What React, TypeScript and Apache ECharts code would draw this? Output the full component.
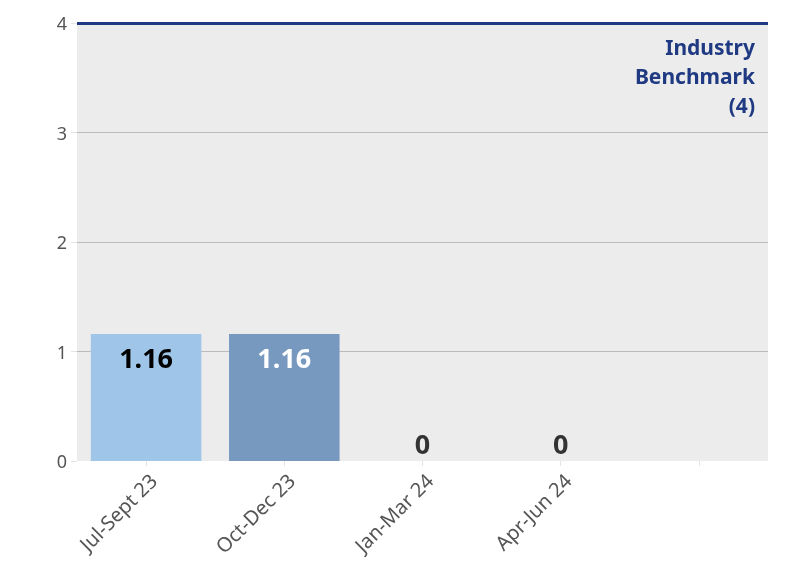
import React, { useEffect, useRef } from "react";
import * as echarts from "echarts";

const categories = ["Jul-Sept 23", "Oct-Dec 23", "Jan-Mar 24", "Apr-Jun 24", ""];
const values = [1.16, 1.16, 0, 0, null];
const barColors = ["#9fc5e8", "#7899bf", "#9fc5e8", "#7899bf", "#9fc5e8"];
const labelColors = ["#000000", "#ffffff", "#333333", "#333333", "#333333"];
const benchmark = 4;
const benchmarkLabel = ["Industry", "Benchmark", "(4)"];
const yTicks = [0, 1, 2, 3, 4];

const FONT = "'Noto Sans', sans-serif";

export default function App() {
  const ref = useRef<HTMLDivElement>(null);
  useEffect(() => {
    if (!ref.current) return;
    const chart = echarts.init(ref.current, undefined, { renderer: "svg" });
    chart.setOption({
      animation: false,
      textStyle: { fontFamily: FONT },
      grid: { left: 77, right: 28, top: 23, bottom: 114, show: true, backgroundColor: "#ececec", borderWidth: 0 },
      xAxis: {
        type: "category",
        data: categories,
        axisLine: { show: false },
        axisTick: { show: true, alignWithLabel: true, length: 5, lineStyle: { color: "#e4e4e4" } },
        axisLabel: {
          rotate: 45,
          color: "#555555",
          fontSize: 20,
          margin: 9,
          verticalAlign: "top",
          fontFamily: FONT,
          interval: 0,
        },
      },
      yAxis: {
        type: "value",
        min: yTicks[0],
        max: yTicks[yTicks.length - 1],
        interval: 1,
        axisLine: { show: false },
        axisTick: { show: true, length: 6, lineStyle: { color: "#e4e4e4" } },
        axisLabel: { color: "#555555", fontSize: 18, margin: 10, fontFamily: FONT },
        splitLine: { showMinLine: false, lineStyle: { color: "#bbbbbb", width: 1 } },
      },
      series: [
        {
          type: "bar",
          barCategoryGap: "20%",
          data: values.map((v, i) => ({
            value: v,
            itemStyle: { color: barColors[i] },
            label: {
              show: v !== null,
              position: v && v > 0 ? "insideTop" : "top",
              distance: v && v > 0 ? 10 : 4,
              color: labelColors[i],
              fontSize: 27,
              fontWeight: "bold",
              fontFamily: FONT,
            },
          })),
          markLine: {
            silent: true,
            symbol: "none",
            label: { show: false },
            lineStyle: { color: "#1f3a82", width: 3, type: "solid" },
            data: [{ yAxis: benchmark }],
          },
        },
      ],
      graphic: benchmarkLabel.map((t, i) => ({
        type: "text",
        x: 755,
        y: 47 + i * 29,
        style: {
          text: t,
          align: "right",
          verticalAlign: "middle",
          fill: "#1f3a82",
          font: `bold 21px ${FONT}`,
        },
      })),
    });
    return () => chart.dispose();
  }, []);
  return <div ref={ref} style={{ position: "fixed", left: 0, top: 0, width: 796, height: 575 }} />;
}
